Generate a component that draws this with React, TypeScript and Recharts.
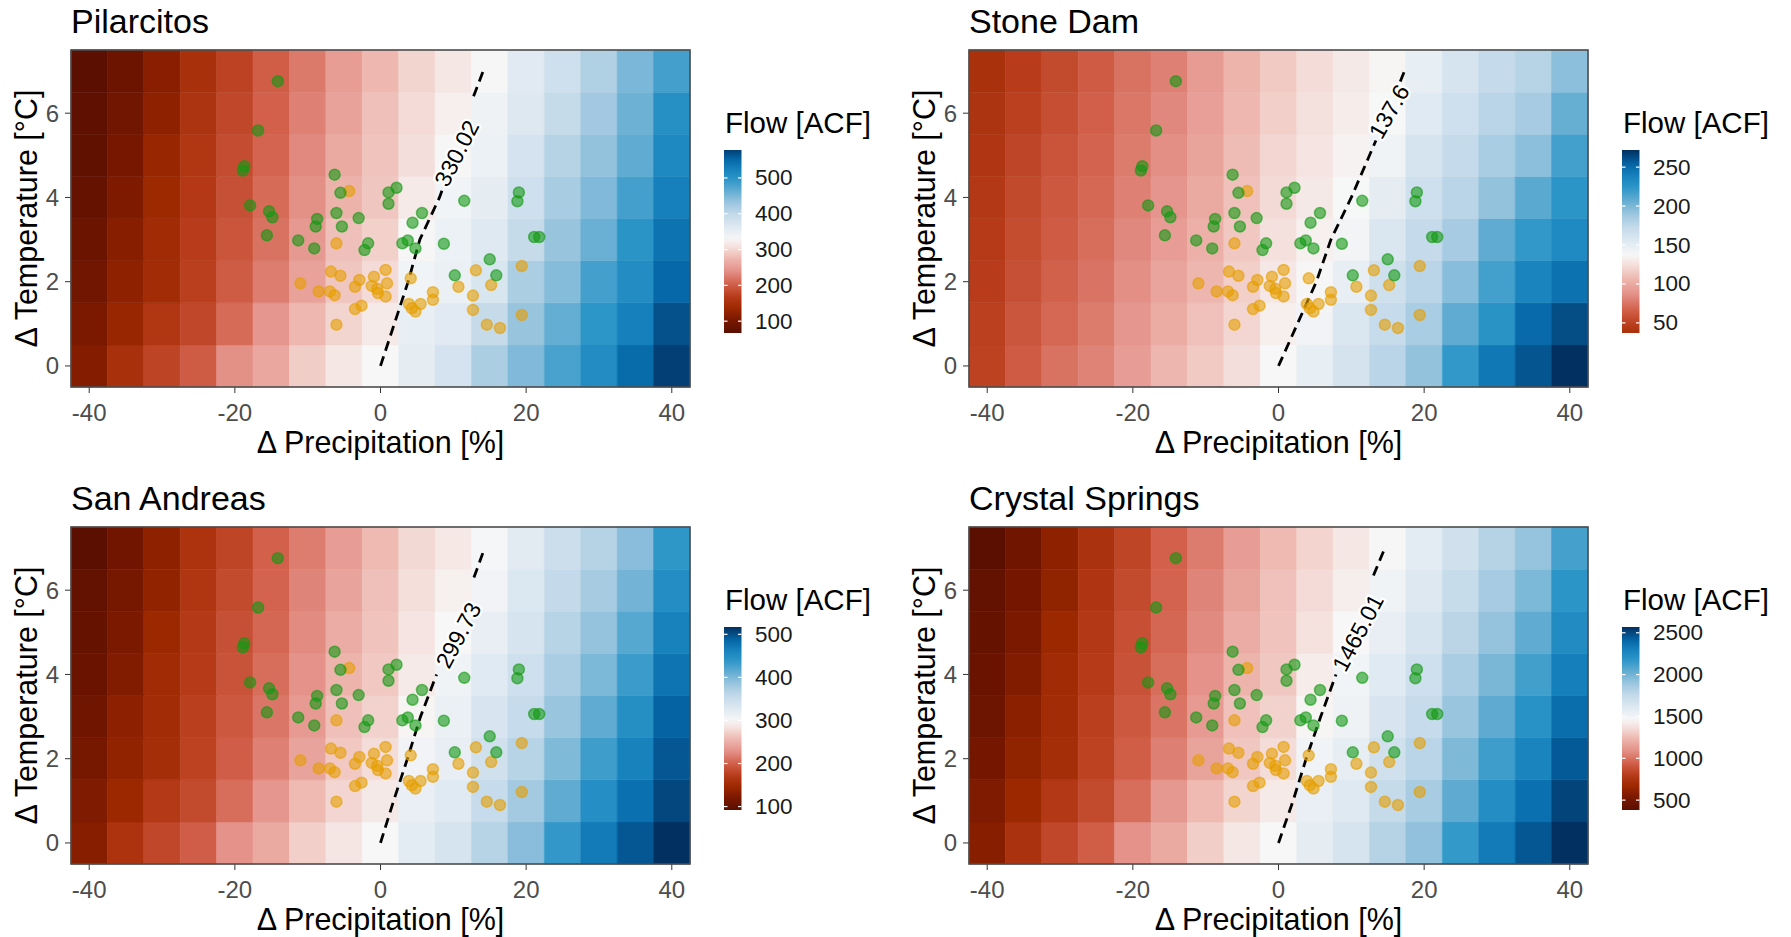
import React from "react";
import { ScatterChart, Scatter, XAxis, YAxis, ReferenceArea } from "recharts";

const FONT = '"Liberation Sans", Arial, Helvetica, sans-serif';

const precipitation = [-40, -35, -30, -25, -20, -15, -10, -5, 0, 5, 10, 15, 20, 25, 30, 35, 40];
const temperature = [0, 1, 2, 3, 4, 5, 6, 7];
const xTicks = [-40, -20, 0, 20, 40];
const yTicks = [0, 2, 4, 6];

// flow per cell: one row per temperature step (0 °C first), one value per precipitation step
const pilarcitosFlow = [
  [113, 150, 177, 199, 239, 260, 292, 314, 330.02, 354, 376, 417, 447, 479, 509, 547, 578],
  [105, 132, 161, 180, 212, 244, 276, 298, 317, 350, 360, 395, 433, 463, 496, 526, 566],
  [94, 121, 142, 172, 199, 225, 255, 287, 303, 338, 346, 371, 417, 444, 482, 509, 550],
  [86, 116, 140, 169, 193, 217, 247, 282, 295, 329, 345, 363, 395, 433, 460, 498, 539],
  [81, 108, 137, 164, 188, 212, 239, 271, 287, 317, 338, 354, 384, 420, 447, 482, 526],
  [75, 100, 132, 161, 185, 207, 234, 263, 284, 306, 329, 345, 376, 409, 436, 466, 515],
  [73, 94, 121, 156, 180, 204, 228, 255, 282, 303, 322, 342, 365, 395, 425, 458, 504],
  [67, 89, 118, 150, 175, 201, 223, 250, 276, 298, 314, 332, 360, 384, 414, 450, 482],
];

const stoneDamFlow = [
  [50, 64, 74, 81, 93, 106, 115, 124, 137.6, 148, 162, 177, 193, 222, 244, 259, 272],
  [49, 61, 70, 78, 90, 101, 111, 120, 133, 142, 158, 171, 184, 208, 226, 251, 262],
  [47, 58, 67, 75, 86, 97, 106, 117, 129, 137, 148, 165, 177, 196, 217, 237, 247],
  [46, 56, 64, 72, 83, 93, 103, 114, 125, 134, 141, 158, 172, 185, 208, 222, 233],
  [44, 54, 62, 70, 80, 89, 99, 111, 122, 130, 138, 150, 166, 177, 193, 210, 224],
  [42, 52, 60, 68, 78, 86, 96, 109, 120, 127, 135, 143, 161, 172, 184, 195, 217],
  [40, 49, 57, 66, 76, 83, 94, 107, 117, 125, 132, 138, 154, 166, 177, 185, 206],
  [37, 47, 55, 64, 74, 80, 92, 105, 115, 123, 130, 136, 148, 161, 172, 178, 195],
];

const sanAndreasFlow = [
  [131, 161, 181, 198, 229, 246, 271, 287, 299.73, 322, 337, 365, 394, 436, 469, 495, 517],
  [125, 146, 169, 183, 208, 233, 258, 275, 289, 316, 326, 354, 378, 414, 448, 478, 504],
  [117, 138, 154, 177, 198, 219, 242, 267, 279, 307, 317, 343, 365, 398, 430, 462, 495],
  [111, 134, 152, 175, 194, 213, 235, 262, 273, 298, 313, 335, 354, 385, 414, 447, 488],
  [106, 127, 150, 171, 190, 208, 229, 254, 267, 290, 308, 326, 345, 374, 400, 432, 475],
  [102, 121, 146, 169, 188, 204, 225, 248, 264, 285, 300, 317, 337, 365, 388, 418, 462],
  [100, 117, 138, 165, 183, 202, 221, 242, 262, 281, 294, 307, 330, 356, 376, 405, 449],
  [92, 113, 136, 161, 179, 200, 217, 237, 258, 277, 288, 302, 324, 348, 366, 394, 438],
];

const crystalSpringsFlow = [
  [586, 738, 847, 933, 1096, 1183, 1313, 1400, 1465.01, 1570, 1655, 1800, 1922, 2156, 2324, 2457, 2569],
  [554, 662, 781, 857, 988, 1118, 1248, 1335, 1411, 1546, 1610, 1744, 1850, 2050, 2220, 2370, 2510],
  [510, 619, 706, 825, 933, 1042, 1161, 1291, 1357, 1499, 1565, 1688, 1790, 1970, 2130, 2280, 2450],
  [478, 597, 695, 814, 912, 1009, 1129, 1270, 1324, 1455, 1517, 1643, 1740, 1900, 2050, 2200, 2380],
  [456, 564, 684, 792, 890, 988, 1096, 1226, 1291, 1420, 1498, 1599, 1695, 1840, 1980, 2120, 2310],
  [434, 532, 662, 781, 879, 966, 1074, 1194, 1281, 1380, 1465, 1554, 1655, 1785, 1915, 2045, 2240],
  [423, 510, 619, 760, 857, 955, 1053, 1161, 1270, 1355, 1430, 1510, 1615, 1735, 1855, 1975, 2175],
  [382, 488, 608, 738, 836, 944, 1031, 1140, 1248, 1330, 1400, 1471, 1577, 1688, 1800, 1911, 2112],
];

// precipitation change where the baseline-flow contour crosses each temperature step
const pilarcitosContour = [0, 1.9, 3.8, 5.4, 8.1, 10.2, 11.9, 14.1];
const stoneDamContour = [0, 2.6, 5.2, 7.2, 10.0, 12.5, 15.0, 17.3];
const sanAndreasContour = [0, 1.8, 3.7, 5.5, 7.7, 10.0, 12.2, 14.3];
const crystalSpringsContour = [0, 2.0, 3.8, 5.8, 7.9, 10.0, 12.2, 14.6];

const pilarcitosLegendTicks = [100, 200, 300, 400, 500];
const stoneDamLegendTicks = [50, 100, 150, 200, 250];
const sanAndreasLegendTicks = [100, 200, 300, 400, 500];
const crystalSpringsLegendTicks = [500, 1000, 1500, 2000, 2500];

// projections: [precipitation change %, temperature change °C]
const greenPoints = [
  [-14.1, 6.76], [-16.8, 5.59], [-18.7, 4.74], [-18.9, 4.64], [-6.3, 4.54], [-5.5, 4.11],
  [1.1, 4.12], [2.2, 4.23], [1.1, 3.85], [11.5, 3.92], [19.0, 4.12], [18.8, 3.91],
  [-17.9, 3.81], [-15.3, 3.67], [-14.85, 3.53], [-6.05, 3.63], [-8.7, 3.49], [-8.9, 3.31],
  [-5.3, 3.31], [-3.0, 3.51], [5.7, 3.63], [4.4, 3.4], [-15.6, 3.1], [-11.3, 2.98],
  [-9.1, 2.79], [-1.7, 2.91], [-2.2, 2.75], [3.75, 2.98], [3.0, 2.91], [4.8, 2.79],
  [8.7, 2.9], [21.1, 3.06], [21.8, 3.06], [15.0, 2.53], [10.2, 2.15], [15.9, 2.15],
];

const goldPoints = [
  [-4.3, 4.15], [-6.05, 2.91], [-6.8, 2.24], [-5.5, 2.14], [-11.0, 1.96], [-8.5, 1.77],
  [-6.95, 1.77], [-6.3, 1.68], [-6.05, 0.98], [-2.9, 2.04], [-3.5, 1.88], [-0.9, 2.12],
  [0.7, 2.28], [0.9, 1.96], [-1.2, 1.9], [-0.45, 1.83], [-0.35, 1.73], [0.7, 1.65],
  [-3.5, 1.35], [-2.6, 1.43], [4.15, 2.08], [3.9, 1.47], [4.3, 1.37], [4.8, 1.29],
  [5.5, 1.47], [7.2, 1.75], [7.2, 1.57], [10.7, 1.88], [13.1, 2.27], [12.7, 1.67],
  [12.7, 1.33], [15.2, 1.92], [14.6, 0.98], [16.4, 0.9], [19.4, 2.37], [19.4, 1.21],
];

const PALETTE: [number, string][] = [
  [0.0, "#5a0f00"],
  [0.07, "#7a1800"],
  [0.13, "#9c2800"],
  [0.19, "#b63a18"],
  [0.26, "#d2604a"],
  [0.33, "#e4928a"],
  [0.4, "#eebab2"],
  [0.45, "#f4dcd8"],
  [0.5, "#f7f7f7"],
  [0.56, "#e0eaf2"],
  [0.63, "#c4daea"],
  [0.7, "#98c4de"],
  [0.76, "#62acd2"],
  [0.82, "#2d96c8"],
  [0.88, "#1580bc"],
  [0.93, "#0566a6"],
  [1.0, "#023060"],
];

function hexRgb(h: string) {
  return [1, 3, 5].map((i) => parseInt(h.slice(i, i + 2), 16));
}

function paletteColor(p: number) {
  const t = Math.max(0, Math.min(1, p));
  let i = 0;
  while (i < PALETTE.length - 2 && t > PALETTE[i + 1][0]) i++;
  const [p0, c0] = PALETTE[i];
  const [p1, c1] = PALETTE[i + 1];
  const f = (t - p0) / (p1 - p0);
  const a = hexRgb(c0);
  const b = hexRgb(c1);
  const rgb = a.map((v, k) => Math.round(v + (b[k] - v) * f));
  return `rgb(${rgb[0]},${rgb[1]},${rgb[2]})`;
}

function makeScale(flow: number[][], mid: number, lowPos: number, highPos: number) {
  const flat = flow.flat();
  const min = Math.min(...flat);
  const max = Math.max(...flat);
  const pos = (v: number) =>
    v < mid ? 0.5 - (0.5 - lowPos) * (mid - v) / (mid - min) : 0.5 + (highPos - 0.5) * (v - mid) / (max - mid);
  return { min, max, color: (v: number) => paletteColor(pos(v)) };
}

const panels = [
  {
    name: "Pilarcitos", flow: pilarcitosFlow, contour: pilarcitosContour, label: "330.02", level: 330.02,
    labelAt: [10.46, 5.05], gap: [4.2, 6.4], angle: -63, legendTicks: pilarcitosLegendTicks,
    lowPos: 0, highPos: 0.98, left: 0, top: 0,
  },
  {
    name: "Stone Dam", flow: stoneDamFlow, contour: stoneDamContour, label: "137.6", level: 137.6,
    labelAt: [15.2, 6.04], gap: [5.35, 6.75], angle: -60, legendTicks: stoneDamLegendTicks,
    lowPos: 0.16, highPos: 1, left: 898, top: 0,
  },
  {
    name: "San Andreas", flow: sanAndreasFlow, contour: sanAndreasContour, label: "299.73", level: 299.73,
    labelAt: [10.7, 4.93], gap: [4.0, 6.3], angle: -62, legendTicks: sanAndreasLegendTicks,
    lowPos: 0, highPos: 1, left: 0, top: 477,
  },
  {
    name: "Crystal Springs", flow: crystalSpringsFlow, contour: crystalSpringsContour, label: "1465.01", level: 1465.01,
    labelAt: [10.9, 4.99], gap: [4.0, 6.35], angle: -62, legendTicks: crystalSpringsLegendTicks,
    lowPos: 0, highPos: 1, left: 898, top: 477,
  },
];

function splitContour(xs: number[], lo: number, hi: number) {
  const pts = xs.map((x, i) => ({ x, y: temperature[i] }));
  const at = (y: number) => {
    const i = Math.min(Math.floor(y), pts.length - 2);
    const f = y - i;
    return { x: pts[i].x + (pts[i + 1].x - pts[i].x) * f, y };
  };
  return [
    [...pts.filter((p) => p.y < lo), at(lo)],
    [at(hi), ...pts.filter((p) => p.y > hi)],
  ];
}

const dot = (color: string) => (p: any) => (
  <circle cx={p.cx} cy={p.cy} r={5.5} fill={color} fillOpacity={0.6} stroke={color} strokeOpacity={0.6} strokeWidth={1.5} />
);

const CHART_W = 700;
const CHART_H = 470;
const AXIS_Y_W = 71;
const AXIS_X_H = 83;
const TOP = 50;
const PLOT_W = 619;
const PLOT_H = 337;

function Panel({ cfg }: { cfg: (typeof panels)[number] }) {
  const scale = makeScale(cfg.flow, cfg.level, cfg.lowPos, cfg.highPos);
  const [lower, upper] = splitContour(cfg.contour, cfg.gap[0], cfg.gap[1]);
  const line = { stroke: "#000", strokeWidth: 2.8, strokeDasharray: "10 6" };
  const tickStyle = { fill: "#4d4d4d", fontSize: 24, fontFamily: FONT };
  return (
    <div style={{ position: "absolute", left: cfg.left, top: cfg.top }}>
      <ScatterChart width={CHART_W} height={CHART_H} margin={{ top: TOP, right: 10, bottom: 0, left: 0 }}>
        <XAxis
          type="number" dataKey="x" domain={[-42.5, 42.5]} ticks={xTicks} interval={0}
          allowDataOverflow axisLine={false} tickLine={{ stroke: "#333" }} tickSize={6} tickMargin={11}
          height={AXIS_X_H} tick={tickStyle}
        />
        <YAxis
          type="number" dataKey="y" domain={[-0.5, 7.5]} ticks={yTicks} interval={0}
          allowDataOverflow axisLine={false} tickLine={{ stroke: "#333" }} tickSize={6} tickMargin={6}
          width={AXIS_Y_W} tick={tickStyle}
        />
        {temperature.map((t, ti) =>
          precipitation.map((p, pi) => {
            const c = scale.color(cfg.flow[ti][pi]);
            return (
              <ReferenceArea
                key={`${ti}-${pi}`} x1={p - 2.5} x2={p + 2.5} y1={t - 0.5} y2={t + 0.5}
                fill={c} fillOpacity={1} stroke={c} strokeWidth={0.6} ifOverflow="visible"
              />
            );
          })
        )}
        <Scatter data={lower} line={line} shape={() => <g />} isAnimationActive={false} />
        <Scatter data={upper} line={line} shape={() => <g />} isAnimationActive={false} />
        <Scatter
          data={[{ x: cfg.labelAt[0], y: cfg.labelAt[1] }]}
          isAnimationActive={false}
          shape={(p: any) => (
            <text
              x={p.cx} y={p.cy} transform={`rotate(${cfg.angle} ${p.cx} ${p.cy})`} textAnchor="middle"
              dominantBaseline="central" fontSize={23} fontFamily={FONT} fill="#000" stroke="#fff"
              strokeWidth={4.5} strokeLinejoin="round" paintOrder="stroke"
            >
              {cfg.label}
            </text>
          )}
        />
        <Scatter data={goldPoints.map(([x, y]) => ({ x, y }))} shape={dot("#E69F00")} isAnimationActive={false} />
        <Scatter data={greenPoints.map(([x, y]) => ({ x, y }))} shape={dot("#139a13")} isAnimationActive={false} />
      </ScatterChart>
    </div>
  );
}

function Overlay() {
  return (
    <svg width={1791} height={937} style={{ position: "absolute", left: 0, top: 0, pointerEvents: "none" }}>
      {panels.map((cfg, k) => {
        const scale = makeScale(cfg.flow, cfg.level, cfg.lowPos, cfg.highPos);
        const px = cfg.left + AXIS_Y_W;
        const py = cfg.top + TOP;
        const barX = px + PLOT_W + 34;
        const barY = cfg.top + 150;
        const barW = 17.5;
        const barH = 183;
        const yOf = (v: number) => barY + barH - ((v - scale.min) / (scale.max - scale.min)) * barH;
        const stops = Array.from({ length: 41 }, (_, i) => scale.min + ((scale.max - scale.min) * i) / 40);
        return (
          <g key={cfg.name} fontFamily={FONT}>
            <rect x={px} y={py} width={PLOT_W} height={PLOT_H} fill="none" stroke="#4d4d4d" strokeWidth={1.6} />
            <text x={px} y={cfg.top + 33} fontSize={34} fill="#000">{cfg.name}</text>
            <text x={px + PLOT_W / 2} y={cfg.top + 453} fontSize={30.5} fill="#000" textAnchor="middle">
              Δ Precipitation [%]
            </text>
            <text
              x={cfg.left + 37} y={py + PLOT_H / 2} fontSize={30.5} fill="#000" textAnchor="middle"
              transform={`rotate(-90 ${cfg.left + 37} ${py + PLOT_H / 2})`}
            >
              Δ Temperature [°C]
            </text>
            <defs>
              <linearGradient id={`bar${k}`} x1="0" y1="1" x2="0" y2="0">
                {stops.map((v, i) => (
                  <stop key={i} offset={`${(i / 40) * 100}%`} stopColor={scale.color(v)} />
                ))}
              </linearGradient>
            </defs>
            <text x={barX + 1} y={cfg.top + 133} fontSize={29.5} fill="#000">Flow [ACF]</text>
            <rect x={barX} y={barY} width={barW} height={barH} fill={`url(#bar${k})`} />
            {cfg.legendTicks.map((t) => (
              <g key={t}>
                <line x1={barX} x2={barX + 3.5} y1={yOf(t)} y2={yOf(t)} stroke="#fff" strokeWidth={1.2} />
                <line x1={barX + barW - 3.5} x2={barX + barW} y1={yOf(t)} y2={yOf(t)} stroke="#fff" strokeWidth={1.2} />
                <text x={barX + 31} y={yOf(t)} fontSize={22.5} fill="#1a1a1a" dominantBaseline="central">{t}</text>
              </g>
            ))}
          </g>
        );
      })}
    </svg>
  );
}

export default function App() {
  return (
    <div style={{ position: "absolute", left: 0, top: 0, width: 1791, height: 937, background: "#fff" }}>
      {panels.map((cfg) => (
        <Panel key={cfg.name} cfg={cfg} />
      ))}
      <Overlay />
    </div>
  );
}
